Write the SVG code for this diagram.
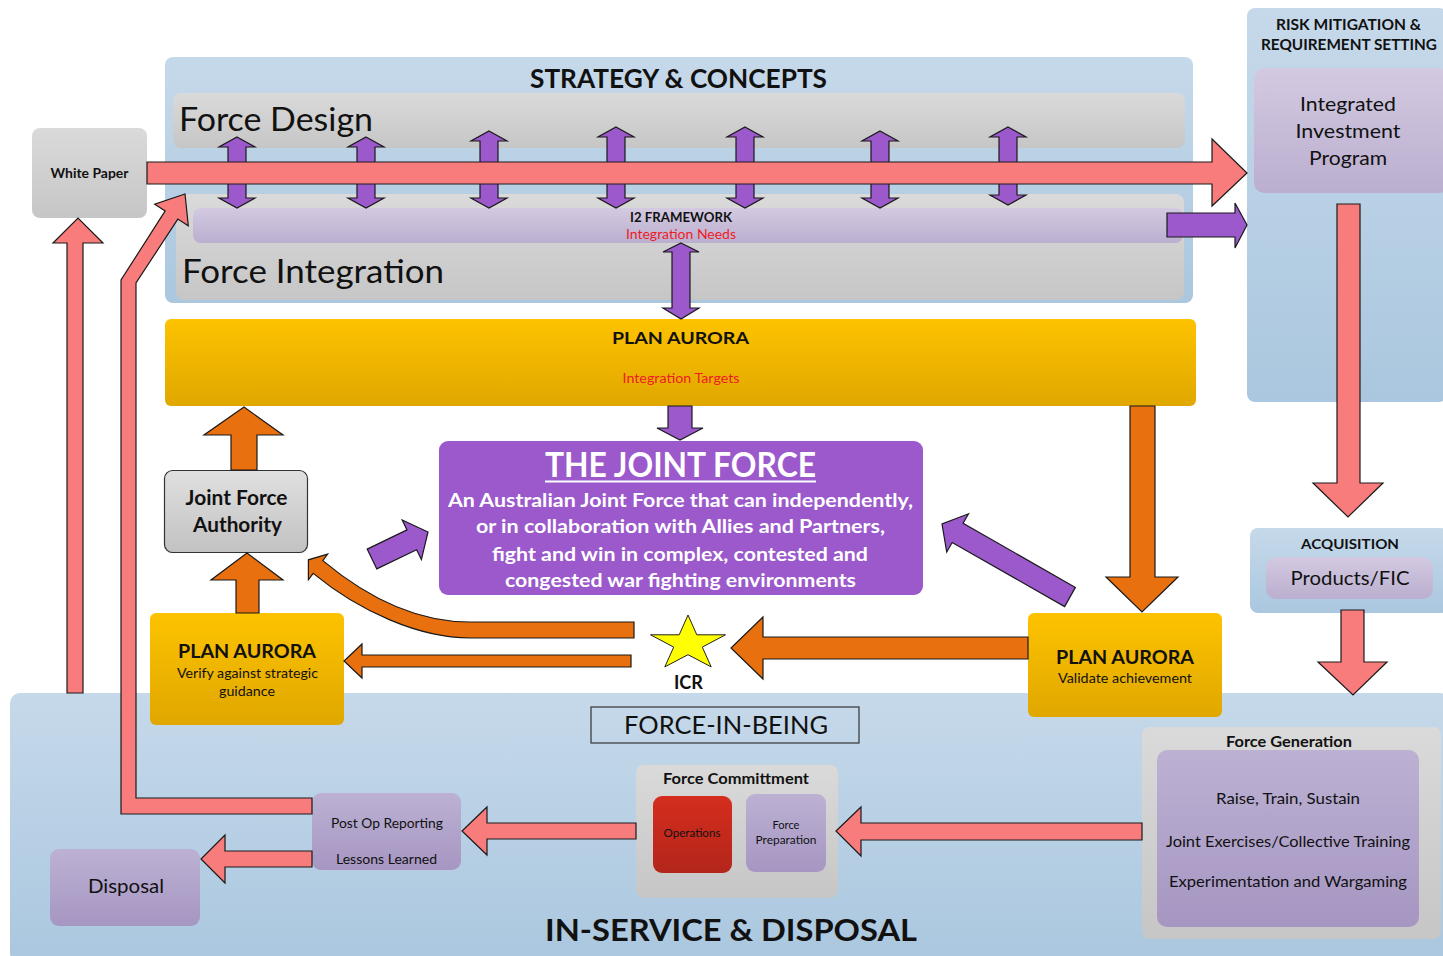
<svg xmlns="http://www.w3.org/2000/svg" width="1443" height="956" viewBox="0 0 1443 956">
<defs>
<linearGradient id="gBlue" x1="0" y1="0" x2="0" y2="1"><stop offset="0" stop-color="#c6d9ea"/><stop offset="1" stop-color="#aac7df"/></linearGradient>
<linearGradient id="gGray" x1="0" y1="0" x2="0" y2="1"><stop offset="0" stop-color="#dadada"/><stop offset="1" stop-color="#c6c6c6"/></linearGradient>
<linearGradient id="gLav" x1="0" y1="0" x2="0" y2="1"><stop offset="0" stop-color="#d3cae1"/><stop offset="1" stop-color="#bbaecf"/></linearGradient>
<linearGradient id="gLav2" x1="0" y1="0" x2="0" y2="1"><stop offset="0" stop-color="#bcb1d3"/><stop offset="1" stop-color="#a696c2"/></linearGradient>
<linearGradient id="gGold" x1="0" y1="0" x2="0" y2="1"><stop offset="0" stop-color="#fdc300"/><stop offset="1" stop-color="#e0a700"/></linearGradient>
<linearGradient id="gRed" x1="0" y1="0" x2="0" y2="1"><stop offset="0" stop-color="#d52d1e"/><stop offset="1" stop-color="#b3261a"/></linearGradient>
<linearGradient id="gJfa" x1="0" y1="0" x2="0" y2="1"><stop offset="0" stop-color="#e0e0e0"/><stop offset="1" stop-color="#c2c2c2"/></linearGradient>
</defs>
<style>
text{font-family:Lato,"Open Sans","Liberation Sans",sans-serif;fill:#111;}
.b{font-weight:bold;}
.c{text-anchor:middle;}
.red{fill:#ee1c25;}
.w{fill:#ffffff;}
.pink{fill:#f87c7c;stroke:#1a1a1a;stroke-width:1.2;stroke-linejoin:miter;}
.purp{fill:#9b59cc;stroke:#1a1a1a;stroke-width:1.2;}
.orng{fill:#e8700f;stroke:#1a1a1a;stroke-width:1.2;}
</style>
<rect width="1443" height="956" fill="#ffffff"/>

<g id="strategy-concepts">
<rect x="165" y="57" width="1028" height="246" rx="8" fill="url(#gBlue)"/>
<text class="b c" x="678.5" y="88" font-size="26" textLength="297" lengthAdjust="spacingAndGlyphs">STRATEGY &amp; CONCEPTS</text>
</g>
<g id="force-design">
<rect x="173" y="93" width="1012" height="55" rx="8" fill="url(#gGray)"/>
<text x="179" y="131" font-size="33" textLength="194" lengthAdjust="spacingAndGlyphs">Force Design</text>
</g>
<g id="force-integration">
<rect x="176" y="194" width="1008" height="106" rx="8" fill="url(#gGray)"/>
<text x="182" y="283" font-size="33" textLength="262" lengthAdjust="spacingAndGlyphs">Force Integration</text>
</g>
<g id="i2-framework">
<rect x="193" y="208" width="990" height="35" rx="8" fill="url(#gLav)"/>
<text class="b c" x="681" y="222" font-size="13" textLength="102" lengthAdjust="spacingAndGlyphs">I2 FRAMEWORK</text>
<text class="c red" x="681" y="239" font-size="13" textLength="110" lengthAdjust="spacingAndGlyphs">Integration Needs</text>
</g>
<g id="white-paper">
<rect x="32" y="128" width="115" height="90" rx="8" fill="url(#gGray)"/>
<text class="b c" x="89.5" y="178" font-size="13.5" textLength="78" lengthAdjust="spacingAndGlyphs">White Paper</text>
</g>
<g id="risk-mitigation">
<rect x="1247" y="8" width="200" height="394" rx="8" fill="url(#gBlue)"/>
<text class="b c" x="1348.5" y="30" font-size="15" textLength="145" lengthAdjust="spacingAndGlyphs">RISK MITIGATION &amp;</text>
<text class="b c" x="1349" y="50" font-size="15" textLength="176" lengthAdjust="spacingAndGlyphs">REQUIREMENT SETTING</text>
</g>
<g id="integrated-investment-program">
<rect x="1254" y="68" width="195" height="125" rx="10" fill="url(#gLav)"/>
<text class="c" x="1348" y="111" font-size="20" textLength="96" lengthAdjust="spacingAndGlyphs">Integrated</text>
<text class="c" x="1348" y="138" font-size="20" textLength="105" lengthAdjust="spacingAndGlyphs">Investment</text>
<text class="c" x="1348" y="165" font-size="20" textLength="78" lengthAdjust="spacingAndGlyphs">Program</text>
</g>
<g id="acquisition">
<rect x="1250" y="528" width="199" height="85" rx="8" fill="url(#gBlue)"/>
<text class="b c" x="1350" y="549" font-size="14" textLength="98" lengthAdjust="spacingAndGlyphs">ACQUISITION</text>
</g>
<g id="products-fic">
<rect x="1266" y="557" width="167" height="42" rx="10" fill="url(#gLav)"/>
<text class="c" x="1350" y="585" font-size="20" textLength="119" lengthAdjust="spacingAndGlyphs">Products/FIC</text>
</g>
<g id="in-service-disposal">
<rect x="10" y="693" width="1440" height="270" rx="10" fill="url(#gBlue)"/>
<text class="b c" x="731" y="941" font-size="30" textLength="372" lengthAdjust="spacingAndGlyphs">IN-SERVICE &amp; DISPOSAL</text>
</g>
<g id="force-in-being">
<rect x="591" y="707" width="268" height="36" fill="none" stroke="#333" stroke-width="1.2"/>
<text class="c" x="726" y="734" font-size="25" textLength="204" lengthAdjust="spacingAndGlyphs">FORCE-IN-BEING</text>
</g>
<g id="plan-aurora-top">
<rect x="165" y="319" width="1031" height="87" rx="6" fill="url(#gGold)"/>
<text class="b c" x="680.5" y="344" font-size="17.5" textLength="137" lengthAdjust="spacingAndGlyphs">PLAN AURORA</text>
<text class="c red" x="681" y="383" font-size="13.5" textLength="117" lengthAdjust="spacingAndGlyphs">Integration Targets</text>
</g>
<g id="joint-force">
<rect x="439" y="441" width="484" height="154" rx="9" fill="#9b59cc"/>
<text class="b c w" x="680.5" y="477" font-size="35" textLength="271" lengthAdjust="spacingAndGlyphs">THE JOINT FORCE</text>
<line x1="545" y1="481.5" x2="816" y2="481.5" stroke="#ffffff" stroke-width="2"/>
<text class="b c w" x="680.5" y="507" font-size="18.5" textLength="465" lengthAdjust="spacingAndGlyphs">An Australian Joint Force that can independently,</text>
<text class="b c w" x="680.5" y="533" font-size="18.5" textLength="409" lengthAdjust="spacingAndGlyphs">or in collaboration with Allies and Partners,</text>
<text class="b c w" x="680" y="561" font-size="18.5" textLength="376" lengthAdjust="spacingAndGlyphs">fight and win in complex, contested and</text>
<text class="b c w" x="680.5" y="587" font-size="18.5" textLength="351" lengthAdjust="spacingAndGlyphs">congested war fighting environments</text>
</g>
<g id="joint-force-authority">
<rect x="164.5" y="470.5" width="143" height="82" rx="8" fill="url(#gJfa)" stroke="#333" stroke-width="1.2"/>
<text class="b c" x="236.5" y="505" font-size="21" textLength="102" lengthAdjust="spacingAndGlyphs">Joint Force</text>
<text class="b c" x="237.5" y="532" font-size="21" textLength="89" lengthAdjust="spacingAndGlyphs">Authority</text>
</g>
<g id="plan-aurora-verify">
<rect x="150" y="613" width="194" height="112" rx="6" fill="url(#gGold)"/>
<text class="b c" x="247" y="658" font-size="18.5" textLength="138" lengthAdjust="spacingAndGlyphs">PLAN AURORA</text>
<text class="c" x="247.5" y="678" font-size="13.5" textLength="141" lengthAdjust="spacingAndGlyphs">Verify against strategic</text>
<text class="c" x="247" y="696" font-size="13.5" textLength="56" lengthAdjust="spacingAndGlyphs">guidance</text>
</g>
<g id="plan-aurora-validate">
<rect x="1028" y="613" width="194" height="104" rx="6" fill="url(#gGold)"/>
<text class="b c" x="1125" y="664" font-size="18.5" textLength="138" lengthAdjust="spacingAndGlyphs">PLAN AURORA</text>
<text class="c" x="1125" y="683" font-size="13" textLength="134" lengthAdjust="spacingAndGlyphs">Validate achievement</text>
</g>
<g id="icr">
<polygon points="688,615 696.8,634.8 725.5,634.8 702.3,647.1 711.2,666.9 688,654.7 664.8,666.9 673.7,647.1 650.5,634.8 679.2,634.8" fill="#ffff00" stroke="#222" stroke-width="1"/>
<text class="b c" x="688.5" y="689" font-size="19" textLength="29" lengthAdjust="spacingAndGlyphs">ICR</text>
</g>
<g id="force-generation">
<rect x="1142" y="727" width="299" height="212" rx="8" fill="url(#gGray)"/>
<text class="b c" x="1289" y="747" font-size="14.5" textLength="126" lengthAdjust="spacingAndGlyphs">Force Generation</text>
<rect x="1157" y="750" width="262" height="177" rx="10" fill="url(#gLav2)"/>
<text class="c" x="1288" y="804" font-size="15" textLength="144" lengthAdjust="spacingAndGlyphs">Raise, Train, Sustain</text>
<text class="c" x="1288" y="847" font-size="15" textLength="244" lengthAdjust="spacingAndGlyphs">Joint Exercises/Collective Training</text>
<text class="c" x="1288" y="887" font-size="15" textLength="238" lengthAdjust="spacingAndGlyphs">Experimentation and Wargaming</text>
</g>
<g id="force-committment">
<rect x="636" y="765" width="202" height="133" rx="8" fill="url(#gGray)"/>
<text class="b c" x="736" y="784" font-size="14.5" textLength="146" lengthAdjust="spacingAndGlyphs">Force Committment</text>
</g>
<g id="operations">
<rect x="653" y="796" width="79" height="77" rx="9" fill="url(#gRed)"/>
<text class="c" x="692" y="837" font-size="11" textLength="57" lengthAdjust="spacingAndGlyphs">Operations</text>
</g>
<g id="force-preparation">
<rect x="746" y="794" width="80" height="78" rx="9" fill="url(#gLav2)"/>
<text class="c" x="786" y="829" font-size="11" textLength="27" lengthAdjust="spacingAndGlyphs">Force</text>
<text class="c" x="786" y="844" font-size="11" textLength="61" lengthAdjust="spacingAndGlyphs">Preparation</text>
</g>
<g id="post-op-reporting">
<rect x="312" y="793" width="149" height="77" rx="9" fill="url(#gLav2)"/>
<text class="c" x="387" y="828" font-size="13" textLength="112" lengthAdjust="spacingAndGlyphs">Post Op Reporting</text>
<text class="c" x="386.5" y="864" font-size="13" textLength="101" lengthAdjust="spacingAndGlyphs">Lessons Learned</text>
</g>
<g id="disposal">
<rect x="50" y="849" width="150" height="77" rx="9" fill="url(#gLav2)"/>
<text class="c" x="126" y="893" font-size="20" textLength="76" lengthAdjust="spacingAndGlyphs">Disposal</text>
</g>

<g id="connectors">
<path class="purp" d="M237,137 L255,147 L246,147 L246,198 L255,198 L237,208 L219,198 L228,198 L228,147 L219,147 Z"/>
<path class="purp" d="M366,137 L384,147 L375,147 L375,198 L384,198 L366,208 L348,198 L357,198 L357,147 L348,147 Z"/>
<path class="purp" d="M489,131 L507,141 L498,141 L498,198 L507,198 L489,208 L471,198 L480,198 L480,141 L471,141 Z"/>
<path class="purp" d="M616,127 L634,137 L625,137 L625,198 L634,198 L616,208 L598,198 L607,198 L607,137 L598,137 Z"/>
<path class="purp" d="M745,127 L763,137 L754,137 L754,198 L763,198 L745,208 L727,198 L736,198 L736,137 L727,137 Z"/>
<path class="purp" d="M880,131 L898,141 L889,141 L889,198 L898,198 L880,208 L862,198 L871,198 L871,141 L862,141 Z"/>
<path class="purp" d="M1008,127 L1026,137 L1017,137 L1017,195 L1026,195 L1008,205 L990,195 L999,195 L999,137 L990,137 Z"/>
<path class="pink" d="M147,162 L1212,162 L1212,139 L1247,173 L1212,206 L1212,184 L147,184 Z"/>
<path class="purp" d="M1167,213 L1235,213 L1235,203 L1247,225 L1235,248 L1235,237 L1167,237 Z"/>
<path class="purp" d="M681,243 L699,252 L690,252 L690,308 L699,308 L681,319 L663,308 L672,308 L672,252 L663,252 Z"/>
<path class="purp" d="M668,406 L692,406 L692,428 L703,428 L680,440 L657,428 L668,428 Z"/>
<path class="purp" d="M367.2,549.1 L407,529.9 L402.2,520 L428,532 L421.4,559.6 L416.6,549.7 L376.8,568.9 Z"/>
<path class="purp" d="M1075.4,587.4 L963.1,523.3 L968.5,513.8 L942,524 L946.7,552 L952.2,542.5 L1064.6,606.6 Z"/>
<path class="pink" d="M1337,204 L1360,204 L1360,483 L1383,483 L1348,517 L1313,483 L1337,483 Z"/>
<path class="pink" d="M1341,610 L1364,610 L1364,662 L1387,662 L1353,695 L1318,662 L1341,662 Z"/>
<path class="pink" d="M67,693 L67,243 L53,243 L78,218 L103,243 L83,243 L83,693 Z"/>
<path class="pink" d="M312,814 L121,814 L121,280 L165.2,210.9 L154.7,204.2 L185,194 L188.3,225.8 L177.8,219.1 L136,283 L136,798 L312,798 Z"/>
<path class="pink" d="M312,851 L225,851 L225,835 L201,859 L225,883 L225,867 L312,867 Z"/>
<path class="pink" d="M636,823 L487,823 L487,807 L462,831 L487,855 L487,839 L636,839 Z"/>
<path class="pink" d="M1142,823 L861,823 L861,807 L836,831 L861,856 L861,840 L1142,840 Z"/>
<path class="orng" d="M231,470 L231,435 L204,435 L244,407 L283,435 L257,435 L257,470 Z"/>
<path class="orng" d="M236,613 L236,580 L211,580 L247,553 L283,580 L259,580 L259,613 Z"/>
<path class="orng" d="M1130,406 L1155,406 L1155,577 L1178,577 L1142,612 L1106,577 L1130,577 Z"/>
<path class="orng" d="M1028,637 L763,637 L763,617 L731,648 L763,679 L763,659 L1028,659 Z"/>
<path class="orng" d="M631,655 L362,655 L362,644 L344,661 L362,678 L362,667 L631,667 Z"/>
<path class="orng" d="M634,622 L470,622 C420,622 370,600 322.8,560.6 L327.6,554.2 L308.4,559.8 L308.4,579.8 L313.2,573.4 C360,612 420,638 470,638 L634,638 Z"/>
</g>
</svg>
